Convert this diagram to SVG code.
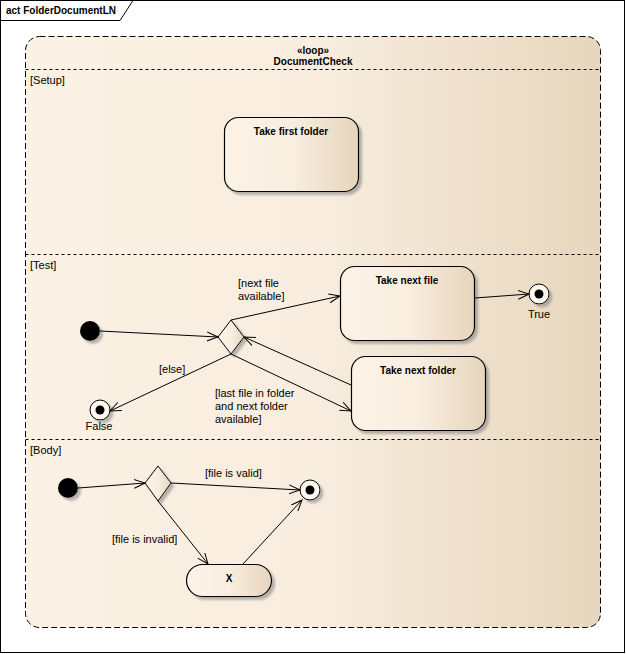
<svg xmlns="http://www.w3.org/2000/svg" width="626" height="654" viewBox="0 0 626 654">
<defs>
<linearGradient id="gLoop" x1="0" y1="0" x2="1" y2="0">
<stop offset="0" stop-color="#FBF1E4"/>
<stop offset="0.5" stop-color="#F8EDDF"/>
<stop offset="1" stop-color="#E7D6BD"/>
</linearGradient>
<linearGradient id="gNode" x1="0" y1="0" x2="1" y2="0">
<stop offset="0" stop-color="#FCF3E7"/>
<stop offset="0.5" stop-color="#F9EEE0"/>
<stop offset="1" stop-color="#E6D5BC"/>
</linearGradient>
<filter id="sh" x="-20%" y="-20%" width="150%" height="150%">
<feDropShadow dx="3" dy="3" stdDeviation="1" flood-color="#808080" flood-opacity="0.55"/>
</filter>
<marker id="arr" markerUnits="userSpaceOnUse" markerWidth="14" markerHeight="12" refX="11" refY="5" orient="auto">
<path d="M0,0.5 L11,5 L0,9.5" fill="none" stroke="#000" stroke-width="1"/>
</marker>
</defs>
<style>
text{font-family:"Liberation Sans",Arial,sans-serif;fill:#000}
.lbl{font-size:11px}
.nm{font-size:10px;font-weight:bold}
.node{fill:url(#gNode);stroke:#000;stroke-width:1.2;filter:url(#sh)}
.edge{fill:none;stroke:#000;stroke-width:1;marker-end:url(#arr)}
.div{fill:none;stroke:#000;stroke-width:1;stroke-dasharray:3,3}
</style>
<rect x="0.5" y="0.5" width="624" height="652" fill="#fff" stroke="#000" stroke-width="1"/>
<path d="M0.5,20.5 H120 L133,0.5" fill="none" stroke="#000" stroke-width="1"/>
<text x="6" y="14" class="nm">act FolderDocumentLN</text>

<g id="loop">
<rect x="25.5" y="36.5" width="575" height="591" rx="14" fill="url(#gLoop)" stroke="#000" stroke-width="1" stroke-dasharray="6,3"/>
<text x="313" y="54" class="nm" text-anchor="middle">«loop»</text>
<text x="313" y="65" class="nm" text-anchor="middle">DocumentCheck</text>
<line x1="25.5" y1="69.5" x2="600.5" y2="69.5" class="div"/>
<line x1="25.5" y1="254.5" x2="600.5" y2="254.5" class="div"/>
<line x1="25.5" y1="439.5" x2="600.5" y2="439.5" class="div"/>
<text x="30" y="84" class="lbl">[Setup]</text>
<text x="30" y="269" class="lbl">[Test]</text>
<text x="30" y="454" class="lbl">[Body]</text>
</g>

<g id="takeFirstFolder">
<rect x="224.5" y="117.5" width="134" height="74" rx="14" class="node"/>
<text x="291" y="135" class="nm" text-anchor="middle">Take first folder</text>
</g>
<g id="takeNextFile">
<rect x="340.5" y="266.5" width="134" height="74" rx="14" class="node"/>
<text x="407" y="284" class="nm" text-anchor="middle">Take next file</text>
</g>
<g id="takeNextFolder">
<rect x="351.5" y="356.5" width="134" height="74" rx="14" class="node"/>
<text x="418" y="374" class="nm" text-anchor="middle">Take next folder</text>
</g>
<g id="testInitial">
<circle cx="90" cy="331" r="10" fill="#000" filter="url(#sh)"/>
</g>
<g id="testDecision">
<path d="M231,320 L244,337 L231,354 L218,337 Z" fill="url(#gNode)" stroke="#000" stroke-width="1" filter="url(#sh)"/>
</g>
<g id="trueFinal">
<circle cx="539" cy="294" r="10" fill="#FFF8F0" stroke="#000" stroke-width="1" filter="url(#sh)"/>
<circle cx="539" cy="294" r="4.5" fill="#000"/>
<text x="539" y="318" class="lbl" text-anchor="middle">True</text>
</g>
<g id="falseFinal">
<circle cx="100" cy="410" r="10" fill="#FFF8F0" stroke="#000" stroke-width="1" filter="url(#sh)"/>
<circle cx="100" cy="410" r="4.5" fill="#000"/>
<text x="99" y="430" class="lbl" text-anchor="middle">False</text>
</g>
<g id="bodyInitial">
<circle cx="68" cy="488" r="10" fill="#000" filter="url(#sh)"/>
</g>
<g id="bodyDecision">
<path d="M158,466 L171,483 L158,501 L145,483 Z" fill="url(#gNode)" stroke="#000" stroke-width="1" filter="url(#sh)"/>
</g>
<g id="bodyFinal">
<circle cx="310" cy="490" r="10" fill="#FFF8F0" stroke="#000" stroke-width="1" filter="url(#sh)"/>
<circle cx="310" cy="490" r="4.5" fill="#000"/>
</g>
<g id="nodeX">
<rect x="186.5" y="564.5" width="85" height="32" rx="16" class="node"/>
<text x="229" y="582" class="nm" text-anchor="middle">X</text>
</g>

<g id="connectors">
<path d="M100,331 L218,337" class="edge"/>
<path d="M231,320 L340,296" class="edge"/>
<path d="M231,354 L351,411" class="edge"/>
<path d="M351,385 L244,337" class="edge"/>
<path d="M231,354 L110,411" class="edge"/>
<path d="M475,298 L529,294" class="edge"/>
<path d="M78,488 L145,483" class="edge"/>
<path d="M171,483 L300,490" class="edge"/>
<path d="M158,501 L208,564" class="edge"/>
<path d="M243,564 L302,500" class="edge"/>
<text x="238" y="287" class="lbl">[next file</text>
<text x="238" y="300" class="lbl">available]</text>
<text x="159" y="373" class="lbl">[else]</text>
<text x="215" y="397" class="lbl">[last file in folder</text>
<text x="215" y="410" class="lbl">and next folder</text>
<text x="215" y="423" class="lbl">available]</text>
<text x="205" y="477" class="lbl">[file is valid]</text>
<text x="112" y="543" class="lbl">[file is invalid]</text>
</g>
</svg>
